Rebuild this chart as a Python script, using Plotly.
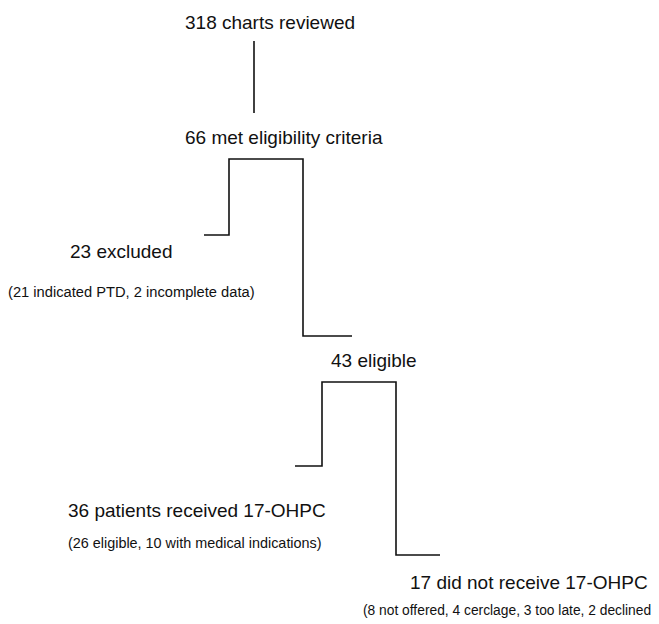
import plotly.graph_objects as go

# ---- data ----
counts = [318, 66, 23, 43, 36, 17]
labels = ["charts reviewed", "met eligibility criteria", "excluded", "eligible",
          "patients received 17-OHPC", "did not receive 17-OHPC"]
details = ["", "", "(21 indicated PTD, 2 incomplete data)", "",
           "(26 eligible, 10 with medical indications)",
           "(8 not offered, 4 cerclage, 3 too late, 2 declined)"]

# ---- layout (pixel canvas) ----
W, H = 659, 624
PAGE_MARGIN = 8  # default body margin of the html page
node_pos = [(270, 22), (283.5, 137), (121, 251), (374, 360), (197, 510), (529, 582)]
detail_pos = [None, None, (131, 292), None, (195, 543), (509, 610)]
detail_size = [None, None, 14.7, None, 14.4, 13.8]

# connector paths (canvas coordinates)
connectors = [
    ([254, 254], [41, 113]),
    ([204, 229, 229, 303, 303, 352], [235, 235, 159, 159, 336, 336]),
    ([295, 322, 322, 396, 396, 440], [466, 466, 382, 382, 555, 555]),
]

fig = go.Figure()
for xs, ys in connectors:
    fig.add_trace(go.Scatter(x=xs, y=ys, mode="lines",
                             line=dict(color="#111111", width=1.6),
                             hoverinfo="skip", showlegend=False))

FAMILY = "Liberation Sans, Arial, sans-serif"
font_main = dict(family=FAMILY, size=19, color="#111111")

for c, lab, (x, y) in zip(counts, labels, node_pos):
    fig.add_annotation(x=x, y=y, text=f"{c} {lab}", showarrow=False,
                       xanchor="center", yanchor="middle", font=font_main)
for d, p, s in zip(details, detail_pos, detail_size):
    if d and p:
        fig.add_annotation(x=p[0], y=p[1], text=d, showarrow=False,
                           xanchor="center", yanchor="middle",
                           font=dict(family=FAMILY, size=s, color="#111111"))

fig.update_layout(
    width=W - PAGE_MARGIN, height=H - PAGE_MARGIN,
    margin=dict(l=0, r=0, t=0, b=0),
    paper_bgcolor="white", plot_bgcolor="white",
    xaxis=dict(range=[PAGE_MARGIN, W], visible=False, fixedrange=True),
    yaxis=dict(range=[H, PAGE_MARGIN], visible=False, fixedrange=True),
    showlegend=False,
)
fig.write_html("out.html")
